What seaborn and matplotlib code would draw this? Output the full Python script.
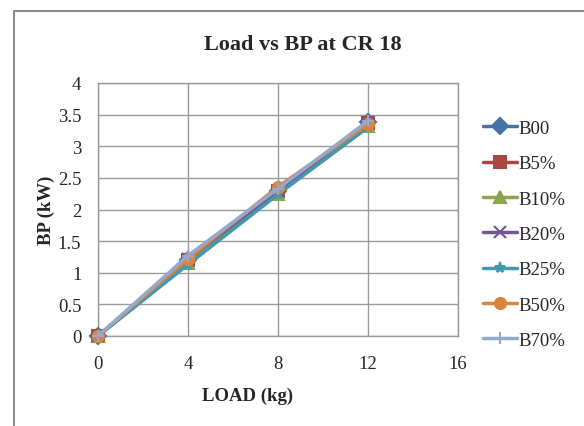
import matplotlib
matplotlib.use("Agg")
import matplotlib.pyplot as plt
from matplotlib.lines import Line2D
import seaborn as sns
import pandas as pd

load = [0, 4, 8, 12]
series_names = ["B00", "B5%", "B10%", "B20%", "B25%", "B50%", "B70%"]
b00 = [0.0, 1.20, 2.30, 3.38]
b5 = [0.0, 1.20, 2.30, 3.37]
b10 = [0.0, 1.15, 2.25, 3.32]
b20 = [0.0, 1.22, 2.30, 3.38]
b25 = [0.0, 1.13, 2.24, 3.30]
b50 = [0.0, 1.22, 2.36, 3.35]
b70 = [0.0, 1.27, 2.33, 3.40]
values = [b00, b5, b10, b20, b25, b50, b70]
xticks = [0, 4, 8, 12, 16]
yticks = [0, 0.5, 1, 1.5, 2, 2.5, 3, 3.5, 4]

colors = ["#4572A7", "#AA4643", "#89A54E", "#71588F", "#4198AF", "#DB843D", "#93A9CF"]
markers = ["D", "s", "^", "x", "*", "o", "+"]

rows = []
for name, vals in zip(series_names, values):
    for x, y in zip(load, vals):
        rows.append({"LOAD": x, "BP": y, "Series": name})
df = pd.DataFrame(rows)

sns.set_theme(style="white")
plt.rcParams["font.family"] = ["Liberation Serif", "DejaVu Serif"]

fig = plt.figure(figsize=(5.84, 4.27), dpi=100)
ax = fig.add_axes([98/584, 1-337/427, (458-98)/584, (337-84)/427])

for name, c, m in zip(series_names, colors, markers):
    sub = df[df["Series"] == name]
    sns.lineplot(data=sub, x="LOAD", y="BP", ax=ax, color=c, marker=m,
                 markersize=8, linewidth=2.5, markeredgecolor=c,
                 markeredgewidth=1.5, label=name, legend=False, clip_on=False)

ax.set_xlim(0, 16)
ax.set_ylim(0, 4)
ax.set_xticks(xticks)
ax.set_yticks(yticks)
ax.set_xticklabels([str(t) for t in xticks], fontsize=13.5)
ax.set_yticklabels([f"{t:g}" for t in yticks], fontsize=13.5)
ax.tick_params(axis="x", length=0, pad=14)
ax.tick_params(axis="y", length=0, pad=12)
ax.grid(True, color="#9a9a9a", linewidth=1)
ax.set_axisbelow(True)
for s in ax.spines.values():
    s.set_color("#9a9a9a")
    s.set_linewidth(1)
    s.set_zorder(0)
ax.set_xlabel("")
ax.set_ylabel("")

fig.text(303/584, 1-45/427, "Load vs BP at CR 18", ha="center", va="center",
         fontsize=16, fontweight="bold")
fig.text(248/584, 1-396/427, "LOAD (kg)", ha="center", va="center",
         fontsize=13.5, fontweight="bold")
fig.text(46/584, 1-210/427, "BP (kW)", ha="center", va="center",
         fontsize=13.5, fontweight="bold", rotation=90)

handles = [Line2D([0], [0], color=c, marker=m, markersize=8, linewidth=2.5,
                  markeredgewidth=1.5) for c, m in zip(colors, markers)]
fig.legend(handles, series_names, loc="upper left",
           bbox_to_anchor=(466/584, 1-104/427), frameon=False, fontsize=13.5,
           handlelength=1.8, handletextpad=0.1, labelspacing=0.97)

border_color = "#8c8c8c"
fig.add_artist(Line2D([14/584, 14/584], [0, 1-12/427], color=border_color,
                      linewidth=1.5, transform=fig.transFigure))
fig.add_artist(Line2D([14/584, 1], [1-12/427, 1-12/427], color=border_color,
                      linewidth=1.5, transform=fig.transFigure))

fig.savefig("out.png", dpi=100)
